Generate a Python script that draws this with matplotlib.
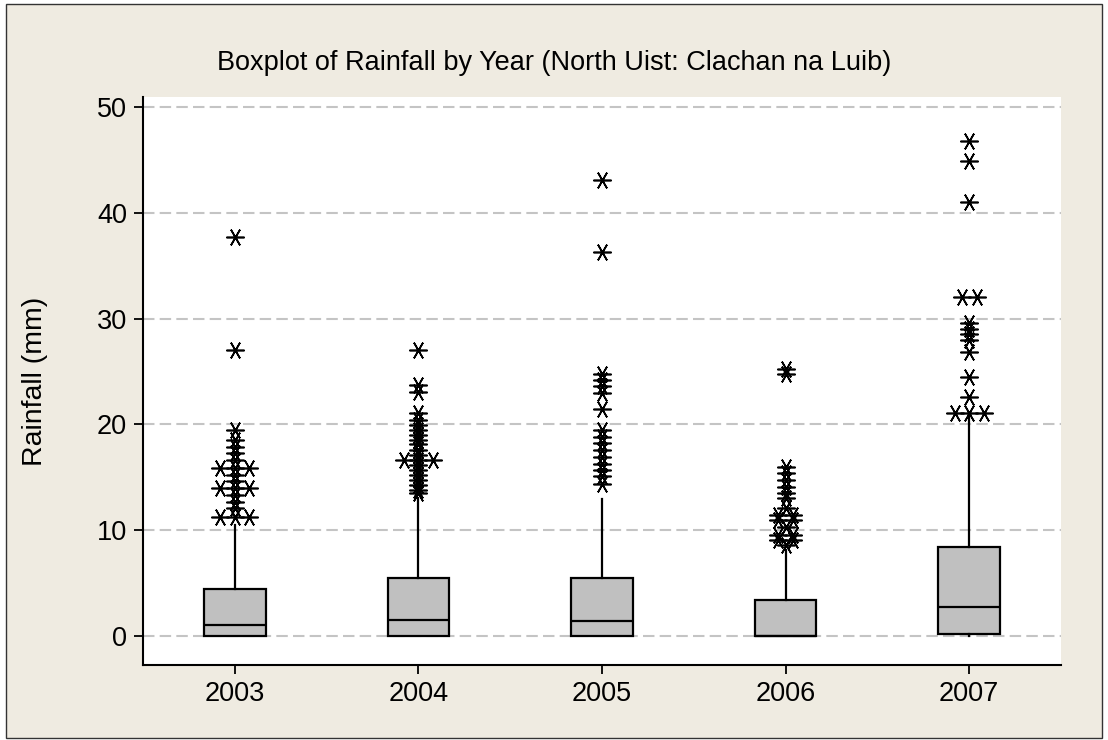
import matplotlib
matplotlib.use("Agg")
import matplotlib.pyplot as plt
from matplotlib.patches import Rectangle
from collections import Counter

plt.rcParams['font.family'] = ['Liberation Sans', 'DejaVu Sans']

# summary stats
years = ['2003', '2004', '2005', '2006', '2007']
q1 = [0.0, 0.0, 0.0, 0.0, 0.2]
medians = [1.0, 1.5, 1.4, 0.0, 2.7]
q3 = [4.4, 5.5, 5.5, 3.4, 8.4]
whisker_low = [0.0, 0.0, 0.0, 0.0, 0.0]
whisker_high = [10.5, 13.0, 12.9, 8.1, 20.7]

# outliers (repeated values = ties, drawn side by side like Minitab does)
out_2003 = [37.7, 27.0, 19.5, 18.5, 17.9, 17.3, 16.6, 15.9, 15.9, 15.9,
            15.2, 14.6, 14.0, 14.0, 14.0, 13.3, 12.7, 12.1, 11.2, 11.2, 11.2]
out_2004 = [27.0, 23.7, 23.1, 21.1, 20.4, 19.9, 19.5, 19.0, 18.5, 18.1,
            17.6, 17.1, 16.6, 16.6, 16.6, 16.2, 15.7, 15.2, 14.7, 14.3,
            13.8, 13.5]
out_2005 = [43.1, 36.3, 24.8, 24.2, 23.6, 23.0, 21.5, 19.5, 18.8, 18.2,
            17.6, 16.9, 16.3, 15.7, 15.1, 14.4]
out_2006 = [25.2, 24.8, 16.0, 15.4, 14.7, 14.1, 13.5, 13.0, 12.1, 11.4,
            11.4, 11.0, 11.0, 10.3, 9.5, 9.5, 9.1, 9.1, 8.6]
out_2007 = [46.8, 44.9, 41.0, 32.0, 32.0, 29.6, 29.0, 28.5, 28.0, 26.8,
            24.5, 22.6, 21.1, 21.1, 21.1]
outliers = [out_2003, out_2004, out_2005, out_2006, out_2007]

fig = plt.figure(figsize=(11.08, 7.4), dpi=100, facecolor='white')
fig.patches.append(Rectangle((6 / 1108, 2 / 740), 1096 / 1108, 734 / 740,
                             transform=fig.transFigure, facecolor='#efebe1',
                             edgecolor='#333333', linewidth=1.0, zorder=-1))

ax = fig.add_axes([143 / 1108, 75 / 740, 918 / 1108, 568 / 740])
ax.set_facecolor('white')

stats = []
for i, y in enumerate(years):
    stats.append(dict(label=y, q1=q1[i], med=medians[i], q3=q3[i],
                      whislo=whisker_low[i], whishi=whisker_high[i], fliers=[]))

positions = list(range(1, len(years) + 1))
ax.bxp(stats, positions=positions, widths=0.335, showcaps=False,
       showfliers=False, patch_artist=True,
       boxprops=dict(facecolor='#c0c0c0', edgecolor='black', linewidth=1.6),
       medianprops=dict(color='black', linewidth=1.6),
       whiskerprops=dict(color='black', linewidth=1.6))

for pos, vals in zip(positions, outliers):
    for v, n in Counter(vals).items():
        xs = [pos + (k - (n - 1) / 2) * 0.08 for k in range(n)]
        ax.plot(xs, [v] * n, linestyle='none', marker=(6, 2, 30),
                markersize=13, markeredgewidth=1.2, color='black', zorder=4)

ax.set_xlim(0.5, 5.5)
ax.set_ylim(-2.75, 50.95)
ax.set_yticks([0, 10, 20, 30, 40, 50])
ax.set_xticks(positions)
ax.set_xticklabels(years)

ax.set_axisbelow(True)
ax.yaxis.grid(True, color='#c4c4c4', linewidth=1.5, linestyle=(0, (5.5, 2.5)))
ax.xaxis.grid(False)

for side in ['top', 'right']:
    ax.spines[side].set_visible(False)
for side in ['left', 'bottom']:
    ax.spines[side].set_linewidth(1.5)
ax.tick_params(axis='both', direction='out', length=6.5, width=1.3,
               labelsize=19.5, pad=5)

ax.set_ylabel('Rainfall (mm)', fontsize=20.5)
ax.yaxis.set_label_coords(-0.104, 0.5)
fig.text(0.5, 1 - 63 / 740, 'Boxplot of Rainfall by Year (North Uist: Clachan na Luib)',
         ha='center', va='center', fontsize=19.5)

fig.savefig('out.png', dpi=100, facecolor=fig.get_facecolor())
